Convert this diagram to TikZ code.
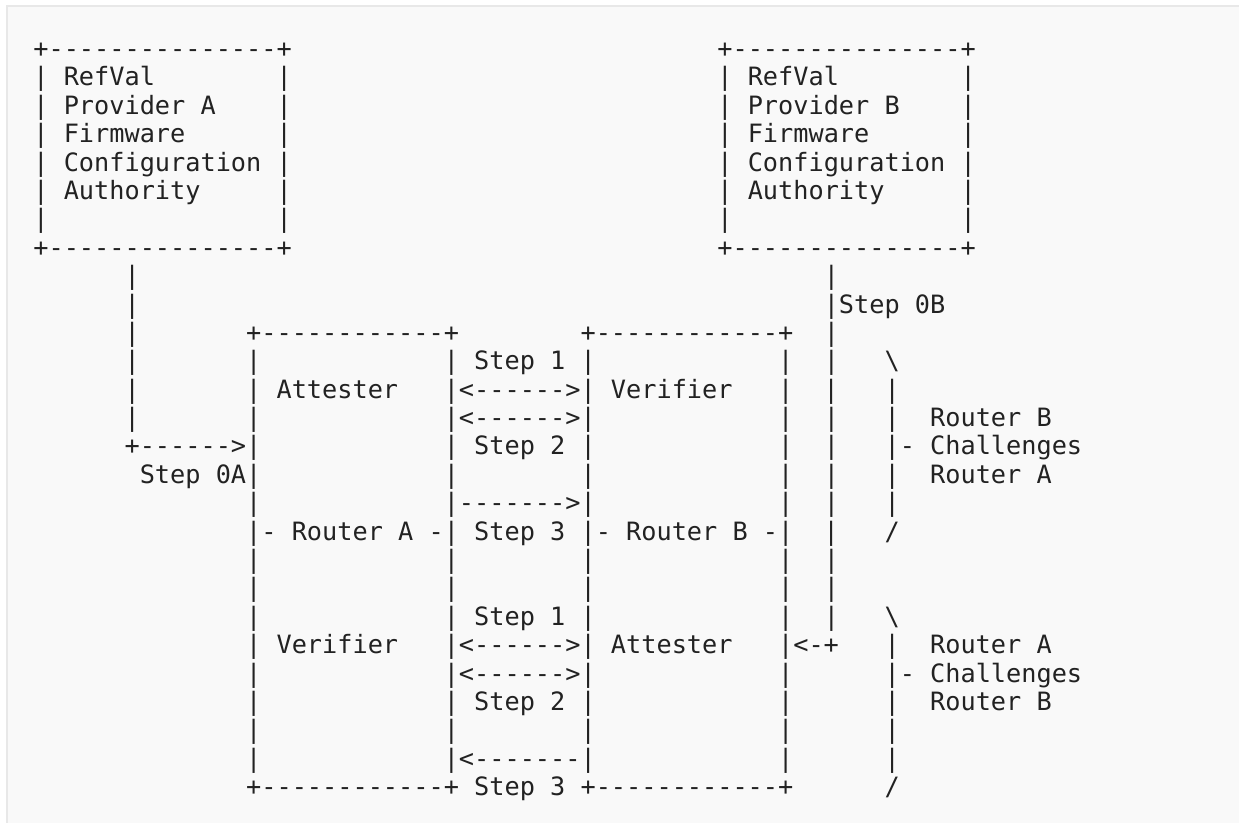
\documentclass[tikz,border=0pt]{standalone}
\usepackage{fontspec}
\setmonofont{DejaVu Sans Mono}
\definecolor{ink}{HTML}{222222}
\definecolor{panel}{HTML}{F9F9F9}
\definecolor{rim}{HTML}{E8E8E8}
\newlength\asccw
\newcommand\asciifont{\ttfamily\fontsize{18.935pt}{20pt}\selectfont}
\newcommand\ascsp[1]{\hspace*{#1\asccw}}
\tikzset{asc/.style={anchor=base west,inner sep=0pt,outer sep=0pt,font=\asciifont,text=ink}}
\begin{document}
\settowidth\asccw{\asciifont x}
\begin{tikzpicture}[x=0.75pt,y=-0.75pt]
\useasboundingbox (0,0) rectangle (1239,822);
\clip (0,0) rectangle (1239,822);
\fill[white] (0,0) rectangle (1239,822);
\draw[rim,line width=1.5pt,fill=panel] (7,6) rectangle (1260,840);
\def\bx{33.4}
\def\by{57.6}
\def\dy{28.385}
\node[asc] (r0)  at (\bx,{\by+\dy*0})  {+---------------+\ascsp{28}+---------------+};
\node[asc] (r1)  at (\bx,{\by+\dy*1})  {| RefVal\ascsp{8}|\ascsp{28}| RefVal\ascsp{8}|};
\node[asc] (r2)  at (\bx,{\by+\dy*2})  {| Provider A\ascsp{4}|\ascsp{28}| Provider B\ascsp{4}|};
\node[asc] (r3)  at (\bx,{\by+\dy*3})  {| Firmware\ascsp{6}|\ascsp{28}| Firmware\ascsp{6}|};
\node[asc] (r4)  at (\bx,{\by+\dy*4})  {| Configuration |\ascsp{28}| Configuration |};
\node[asc] (r5)  at (\bx,{\by+\dy*5})  {| Authority\ascsp{5}|\ascsp{28}| Authority\ascsp{5}|};
\node[asc] (r6)  at (\bx,{\by+\dy*6})  {|\ascsp{15}|\ascsp{28}|\ascsp{15}|};
\node[asc] (r7)  at (\bx,{\by+\dy*7})  {+---------------+\ascsp{28}+---------------+};
\node[asc] (r8)  at (\bx,{\by+\dy*8})  {\ascsp{6}|\ascsp{45}|};
\node[asc] (r9)  at (\bx,{\by+\dy*9})  {\ascsp{6}|\ascsp{45}|Step 0B};
\node[asc] (r10) at (\bx,{\by+\dy*10}) {\ascsp{6}|\ascsp{7}+------------+\ascsp{8}+------------+\ascsp{2}|};
\node[asc] (r11) at (\bx,{\by+\dy*11}) {\ascsp{6}|\ascsp{7}|\ascsp{12}| Step 1 |\ascsp{12}|\ascsp{2}|\ascsp{3}\textbackslash};
\node[asc] (r12) at (\bx,{\by+\dy*12}) {\ascsp{6}|\ascsp{7}| Attester\ascsp{3}|<------>| Verifier\ascsp{3}|\ascsp{2}|\ascsp{3}|};
\node[asc] (r13) at (\bx,{\by+\dy*13}) {\ascsp{6}|\ascsp{7}|\ascsp{12}|<------>|\ascsp{12}|\ascsp{2}|\ascsp{3}|\ascsp{2}Router B};
\node[asc] (r14) at (\bx,{\by+\dy*14}) {\ascsp{6}+------>|\ascsp{12}| Step 2 |\ascsp{12}|\ascsp{2}|\ascsp{3}|- Challenges};
\node[asc] (r15) at (\bx,{\by+\dy*15}) {\ascsp{7}Step 0A|\ascsp{12}|\ascsp{8}|\ascsp{12}|\ascsp{2}|\ascsp{3}|\ascsp{2}Router A};
\node[asc] (r16) at (\bx,{\by+\dy*16}) {\ascsp{14}|\ascsp{12}|------->|\ascsp{12}|\ascsp{2}|\ascsp{3}|};
\node[asc] (r17) at (\bx,{\by+\dy*17}) {\ascsp{14}|- Router A -| Step 3 |- Router B -|\ascsp{2}|\ascsp{3}/};
\node[asc] (r18) at (\bx,{\by+\dy*18}) {\ascsp{14}|\ascsp{12}|\ascsp{8}|\ascsp{12}|\ascsp{2}|};
\node[asc] (r19) at (\bx,{\by+\dy*19}) {\ascsp{14}|\ascsp{12}|\ascsp{8}|\ascsp{12}|\ascsp{2}|};
\node[asc] (r20) at (\bx,{\by+\dy*20}) {\ascsp{14}|\ascsp{12}| Step 1 |\ascsp{12}|\ascsp{2}|\ascsp{3}\textbackslash};
\node[asc] (r21) at (\bx,{\by+\dy*21}) {\ascsp{14}| Verifier\ascsp{3}|<------>| Attester\ascsp{3}|<-+\ascsp{3}|\ascsp{2}Router A};
\node[asc] (r22) at (\bx,{\by+\dy*22}) {\ascsp{14}|\ascsp{12}|<------>|\ascsp{12}|\ascsp{6}|- Challenges};
\node[asc] (r23) at (\bx,{\by+\dy*23}) {\ascsp{14}|\ascsp{12}| Step 2 |\ascsp{12}|\ascsp{6}|\ascsp{2}Router B};
\node[asc] (r24) at (\bx,{\by+\dy*24}) {\ascsp{14}|\ascsp{12}|\ascsp{8}|\ascsp{12}|\ascsp{6}|};
\node[asc] (r25) at (\bx,{\by+\dy*25}) {\ascsp{14}|\ascsp{12}|<-------|\ascsp{12}|\ascsp{6}|};
\node[asc] (r26) at (\bx,{\by+\dy*26}) {\ascsp{14}+------------+ Step 3 +------------+\ascsp{6}/};
\end{tikzpicture}
\end{document}
